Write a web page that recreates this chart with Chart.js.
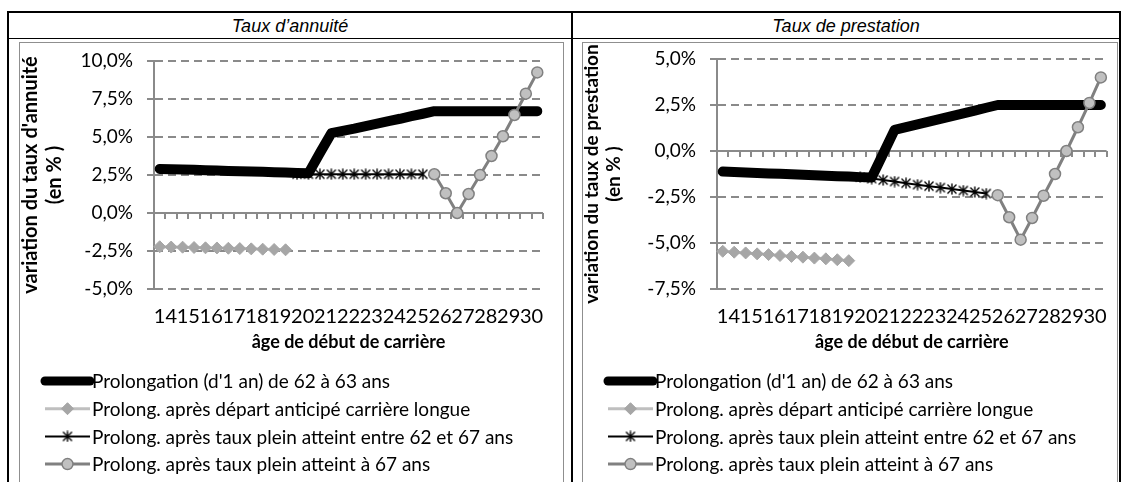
<!DOCTYPE html>
<html lang="fr">
<head>
<meta charset="utf-8">
<script src="https://cdn.jsdelivr.net/npm/chart.js@4.4.1/dist/chart.umd.min.js"></script>
<style>
  html, body { margin: 0; padding: 0; background: #fff; }
  body { width: 1123px; height: 482px; position: relative; overflow: hidden; }
  .rule { position: absolute; background: #000; }
  .head { position: absolute; top: 13px; height: 25px; line-height: 26px; text-align: center;
          font-family: 'Liberation Sans', Arial, sans-serif; font-style: italic; font-size: 18px; color: #000; }
  .frame { position: absolute; top: 42px; height: 460px; border: 1px solid #8f8f8f; box-sizing: border-box; }
  .frame canvas { position: absolute; left: 0; top: 0; }
</style>
</head>
<body>
<!-- table rules -->
<div class="rule" style="left:7px;top:11px;width:1114px;height:2px"></div>
<div class="rule" style="left:7px;top:38px;width:1114px;height:1px"></div>
<div class="rule" style="left:7px;top:11px;width:2px;height:480px"></div>
<div class="rule" style="left:571px;top:11px;width:2px;height:480px"></div>
<div class="rule" style="left:1119px;top:11px;width:2px;height:480px"></div>

<div class="head" style="left:9px;width:562px">Taux d’annuité</div>
<div class="head" style="left:573px;width:546px">Taux de prestation</div>

<div class="frame" style="left:19px;width:545px"><canvas id="annuite" width="543" height="439"></canvas></div>
<div class="frame" style="left:582px;width:536px"><canvas id="prestation" width="534" height="439"></canvas></div>

<script>
// âge de début de carrière, par demi-année (une étiquette sur deux)
const ages = ['14','','15','','16','','17','','18','','19','','20','','21','','22','','23','','24','','25','','26','','27','','28','','29','','30',''];

const legendLabels = [
  "Prolongation (d'1 an) de 62 à 63 ans",
  "Prolong. après départ anticipé carrière longue",
  "Prolong. après taux plein atteint entre 62 et 67 ans",
  "Prolong. après taux plein atteint à 67 ans"
];

// Taux d'annuité (en %)
const prolongAnnuite = [2.90, 2.88, 2.86, 2.84, 2.82, 2.80, 2.77, 2.75, 2.73, 2.71, 2.68, 2.66, 2.63, 2.61,
  3.95, 5.25, 5.40, 5.55, 5.72, 5.88, 6.05, 6.20, 6.37, 6.53, 6.70,
  6.70, 6.70, 6.70, 6.70, 6.70, 6.70, 6.70, 6.70, 6.70];
const longueAnnuite = [-2.22, -2.24, -2.25, -2.27, -2.29, -2.30, -2.32, -2.34, -2.36, -2.38, -2.40, -2.42,
  null, null, null, null, null, null, null, null, null, null, null,
  null, null, null, null, null, null, null, null, null, null, null];
const entreAnnuite = [null, null, null, null, null, null, null, null, null, null, null, null,
  2.55, 2.55, 2.55, 2.55, 2.55, 2.55, 2.55, 2.55, 2.55, 2.55, 2.55, 2.55,
  null, null, null, null, null, null, null, null, null, null];
const pleinAnnuite = [null, null, null, null, null, null, null, null, null, null, null, null,
  null, null, null, null, null, null, null, null, null, null, null, null,
  2.55, 1.30, 0.00, 1.25, 2.50, 3.75, 5.05, 6.45, 7.85, 9.25];

// Taux de prestation (en %)
const prolongPrestation = [-1.12, -1.14, -1.17, -1.19, -1.22, -1.24, -1.27, -1.29, -1.32, -1.34, -1.37, -1.39, -1.42, -1.44,
  -0.15, 1.15, 1.30, 1.45, 1.60, 1.75, 1.90, 2.05, 2.20, 2.35, 2.50,
  2.50, 2.50, 2.50, 2.50, 2.50, 2.50, 2.50, 2.50, 2.50];
const longuePrestation = [-5.45, -5.50, -5.54, -5.59, -5.63, -5.68, -5.73, -5.77, -5.82, -5.86, -5.91, -5.96,
  null, null, null, null, null, null, null, null, null, null, null,
  null, null, null, null, null, null, null, null, null, null, null];
const entrePrestation = [null, null, null, null, null, null, null, null, null, null, null, null,
  -1.42, -1.50, -1.58, -1.66, -1.75, -1.83, -1.91, -1.99, -2.07, -2.15, -2.23, -2.31,
  null, null, null, null, null, null, null, null, null, null];
const pleinPrestation = [null, null, null, null, null, null, null, null, null, null, null, null,
  null, null, null, null, null, null, null, null, null, null, null, null,
  -2.40, -3.60, -4.82, -3.64, -2.43, -1.25, 0.00, 1.29, 2.61, 4.00];

const GREY = '#8a8a8a';
const FONT = 'Lato, "Open Sans", sans-serif';

// asterisk marker: an X with a vertical bar
const star = document.createElement('canvas');
star.width = 12; star.height = 12;
(function () {
  const c = star.getContext('2d');
  c.strokeStyle = '#000'; c.lineWidth = 1.4;
  c.beginPath();
  c.moveTo(1.5, 1.5); c.lineTo(10.5, 10.5);
  c.moveTo(10.5, 1.5); c.lineTo(1.5, 10.5);
  c.moveTo(6, 0.5); c.lineTo(6, 11.5);
  c.stroke();
})();

function pct(v) {
  if (Math.abs(v) < 1e-9) v = 0;
  return v.toFixed(1).replace('.', ',') + '%';
}

// solid zero line with a small tick at every category boundary
const zeroAxis = {
  id: 'zeroAxis',
  beforeDatasetsDraw(chart) {
    const {ctx, chartArea: a, scales: {x, y}} = chart;
    const y0 = Math.round(y.getPixelForValue(0));
    ctx.save();
    ctx.strokeStyle = GREY;
    ctx.lineWidth = 2;
    ctx.beginPath();
    ctx.moveTo(a.left, y0);
    ctx.lineTo(a.right, y0);
    for (let k = 0; k <= ages.length; k++) {
      const px = Math.round(x.getPixelForValue(k - 0.5));
      ctx.moveTo(px, y0);
      ctx.lineTo(px, y0 + 6);
    }
    ctx.stroke();
    ctx.restore();
  }
};

// legend below the plot: long line sample, marker in the middle, label
const lineLegend = {
  id: 'lineLegend',
  afterDraw(chart, args, opts) {
    const {ctx} = chart;
    chart.data.datasets.forEach((ds, k) => {
      const yy = opts.top + k * opts.step;
      ctx.save();
      ctx.strokeStyle = ds.borderColor;
      ctx.lineWidth = ds.legendWidth;
      ctx.lineCap = ds.borderCapStyle || 'butt';
      ctx.beginPath();
      ctx.moveTo(opts.x0, yy);
      ctx.lineTo(opts.x1, yy);
      ctx.stroke();
      if (ds.pointRadius > 0) {
        ctx.fillStyle = ds.pointBackgroundColor;
        ctx.strokeStyle = ds.pointBorderColor;
        ctx.lineWidth = ds.pointBorderWidth;
        Chart.helpers.drawPoint(ctx, {
          pointStyle: ds.pointStyle, radius: ds.pointRadius,
          borderWidth: ds.pointBorderWidth, rotation: 0
        }, (opts.x0 + opts.x1) / 2, yy);
      }
      ctx.fillStyle = '#000';
      ctx.font = '19px ' + FONT;
      ctx.textBaseline = 'middle';
      ctx.fillText(ds.label, opts.textX, yy + 1);
      ctx.restore();
    });
  }
};

function buildDatasets(prolong, longue, entre, plein) {
  return [
    { label: legendLabels[0], data: prolong, borderColor: '#000', borderWidth: 10,
      borderCapStyle: 'round', borderJoinStyle: 'round', pointRadius: 0, order: 4, legendWidth: 9 },
    { label: legendLabels[1], data: longue, borderColor: '#bfbfbf', borderWidth: 3,
      pointStyle: 'rectRot', pointRadius: 6, pointBackgroundColor: '#a6a6a6',
      pointBorderColor: '#a6a6a6', pointBorderWidth: 1, order: 3, legendWidth: 3 },
    { label: legendLabels[2], data: entre, borderColor: '#000', borderWidth: 2,
      pointStyle: star, pointRadius: 6, pointBackgroundColor: '#000',
      pointBorderColor: '#000', pointBorderWidth: 1, order: 2, legendWidth: 2 },
    { label: legendLabels[3], data: plein, borderColor: '#808080', borderWidth: 3,
      pointStyle: 'circle', pointRadius: 5.5, pointBackgroundColor: '#c0c0c0',
      pointBorderColor: '#808080', pointBorderWidth: 1.5, order: 1, legendWidth: 3 }
  ];
}

function makeChart(id, datasets, yMin, yMax, yTitle, titleSize, titlePad, padTop, padRight) {
  return new Chart(document.getElementById(id), {
    type: 'line',
    data: { labels: ages, datasets: datasets },
    plugins: [zeroAxis, lineLegend],
    options: {
      responsive: false,
      animation: false,
      layout: { padding: { top: padTop, right: padRight, bottom: 129, left: 0 } },
      elements: { line: { tension: 0 } },
      plugins: {
        legend: { display: false },
        tooltip: { enabled: false },
        lineLegend: { top: 338, step: 27.7, x0: 25, x1: 70, textX: 72 }
      },
      scales: {
        x: {
          offset: true,
          grid: { display: false, drawTicks: false },
          border: { display: false },
          ticks: {
            autoSkip: false, maxRotation: 0, minRotation: 0, padding: 16, labelOffset: 5.7,
            color: '#000', font: { family: FONT, size: 20 }
          },
          title: {
            display: true, text: 'âge de début de carrière', color: '#000',
            font: { family: FONT, size: 18, weight: 'bold', lineHeight: 1.2 },
            padding: 0
          },
          afterFit(scale) { scale.height = 64; }
        },
        y: {
          min: yMin, max: yMax,
          grid: {
            color: (c) => (c.tick && c.tick.value === 0 ? 'rgba(0,0,0,0)' : GREY),
            lineWidth: 2, tickLength: 7, tickColor: GREY, tickWidth: 2, tickBorderDash: []
          },
          border: { display: true, color: GREY, width: 2, dash: [8, 5] },
          ticks: {
            stepSize: 2.5, padding: 14, color: '#000',
            font: { family: FONT, size: 19 },
            callback: (v) => pct(v)
          },
          title: {
            display: true, text: yTitle, color: '#000',
            font: { family: FONT, size: titleSize, weight: 'bold', lineHeight: 1.2 },
            padding: { top: titlePad, bottom: 0 }
          },
          afterFit(scale) {
            scale.width = 134;
            // the plot box is set by layout padding alone
            scale.paddingTop = 0;
            scale.paddingBottom = 0;
          }
        }
      }
    }
  });
}

makeChart('annuite',
  buildDatasets(prolongAnnuite, longueAnnuite, entreAnnuite, pleinAnnuite),
  -5, 10, ["variation du taux d'annuité", '(en % )'], 20, -1, 18, 20);

makeChart('prestation',
  buildDatasets(prolongPrestation, longuePrestation, entrePrestation, pleinPrestation),
  -7.5, 5, ['variation du taux de prestation', '(en % )'], 19, -3, 16, 10);
</script>
</body>
</html>
